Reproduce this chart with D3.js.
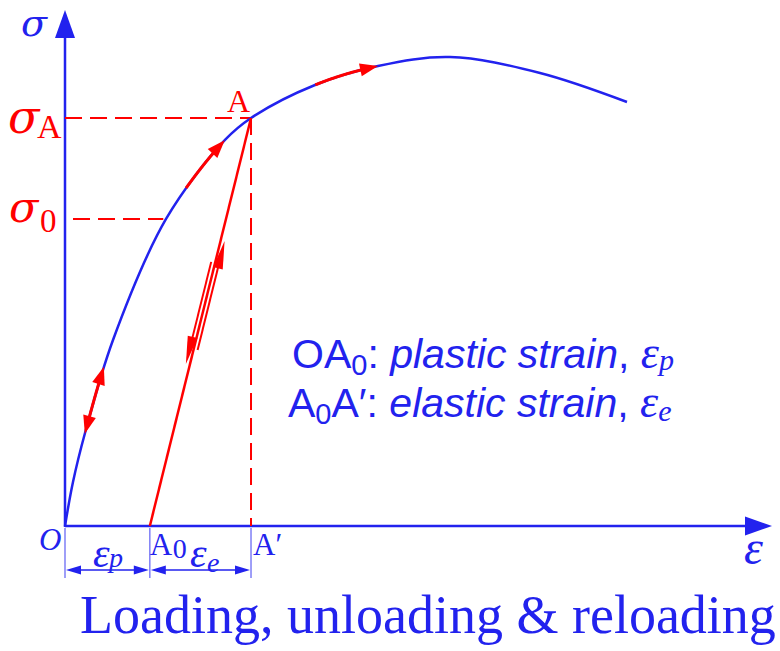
<!DOCTYPE html>
<html>
<head>
<meta charset="utf-8">
<script src="https://cdn.jsdelivr.net/npm/d3@7"></script>
<title>Loading, unloading & reloading</title>
<style>
  body { margin: 0; background: #fff; }
  .serif { font-family: "Liberation Serif", "Times New Roman", serif; }
  .greek { font-family: "DejaVu Serif", serif; }
  .sans { font-family: "Liberation Sans", Arial, sans-serif; }
</style>
</head>
<body>
<svg id="chart" width="780" height="651"></svg>
<script>
// loading curve (strain, stress), arbitrary units 0..100
var curveStrain = [0, 1.13, 2.83, 6.79, 14.29, 22.63, 26.31, 35.36, 44.27, 54.46, 67.19, 79.49];
var curveStress = [0, 8.53, 18.02, 36.05, 59.5, 74.81, 79.07, 85.47, 89.15, 90.89, 87.79, 82.17];

var pointA = [26.31, 79.07];  // A
var strainA0 = 12.0;          // A0, residual strain after unloading
var sigma0 = 59.5;            // initial yield
var strainSigma0 = 13.9;

// red stretches on the curve (strain from -> to) and where the arrowheads go
var redFrom = [2.8, 17.1, 35.4];
var redTo = [5.5, 22.6, 44.3];
var redArrowStart = [true, false, false];
var redArrowEnd = [true, true, true];

// unloading / reloading arrows beside A0-A (stress from -> to, side)
var pathFrom = [51.0, 34.3];
var pathTo = [31.2, 55.4];
var pathSide = [-4, 4];

var blue = "#2222ee", red = "#ff0000";

var svg = d3.select("#chart");
var x = d3.scaleLinear().domain([0, 100]).range([65, 772]);
var y = d3.scaleLinear().domain([0, 100]).range([526, 10]);

function arrowHead(g, tip, ang, len, half, color) {
  var c = Math.cos(ang), s = Math.sin(ang);
  var bx = tip[0] - len * c, by = tip[1] - len * s;
  var pts = [tip, [bx - half * s, by + half * c], [bx + half * s, by - half * c]];
  g.append("polygon").attr("points", pts.map(function(p) { return p.join(","); }).join(" "))
    .attr("fill", color);
}

// axes
svg.append("line").attr("x1", x(0)).attr("y1", y(0) + 1).attr("x2", x(0)).attr("y2", y(100) + 27)
  .attr("stroke", blue).attr("stroke-width", 2.5);
arrowHead(svg, [x(0), y(100)], -Math.PI / 2, 28, 10, blue);
svg.append("line").attr("x1", x(0)).attr("y1", y(0)).attr("x2", x(100) - 26).attr("y2", y(0))
  .attr("stroke", blue).attr("stroke-width", 2.5);
arrowHead(svg, [x(100), y(0)], 0, 27, 9.5, blue);

// dashed guides
var dash = "17,8";
svg.append("line").attr("x1", x(0)).attr("y1", y(pointA[1])).attr("x2", x(pointA[0])).attr("y2", y(pointA[1]))
  .attr("stroke", red).attr("stroke-width", 2).attr("stroke-dasharray", dash);
svg.append("line").attr("x1", x(pointA[0])).attr("y1", y(pointA[1])).attr("x2", x(pointA[0])).attr("y2", y(0))
  .attr("stroke", red).attr("stroke-width", 2).attr("stroke-dasharray", dash);
svg.append("line").attr("x1", x(0) + 8).attr("y1", y(sigma0)).attr("x2", x(strainSigma0)).attr("y2", y(sigma0))
  .attr("stroke", red).attr("stroke-width", 2).attr("stroke-dasharray", dash);

// loading curve
var curveData = curveStrain.map(function(d, i) { return [d, curveStress[i]]; });
var line = d3.line().x(function(d) { return x(d[0]); }).y(function(d) { return y(d[1]); })
  .curve(d3.curveCatmullRom.alpha(0.5));
var curve = svg.append("path").datum(curveData).attr("d", line)
  .attr("fill", "none").attr("stroke", blue).attr("stroke-width", 2.5);

// red pieces following the curve
var node = curve.node(), total = node.getTotalLength();
var samples = d3.range(0, total, 0.5).map(function(l) { var p = node.getPointAtLength(l); return [p.x, p.y]; });
redFrom.forEach(function(f, i) {
  var x0 = x(f), x1 = x(redTo[i]);
  var pts = samples.filter(function(p) { return p[0] >= x0 && p[0] <= x1; });
  var a = pts[0], b = pts[pts.length - 1];
  var g = svg.append("g");
  var s0 = redArrowStart[i] ? 14 : 0, s1 = redArrowEnd[i] ? 14 : 0;
  var inner = pts.filter(function(p) {
    var d0 = Math.hypot(p[0] - a[0], p[1] - a[1]), d1 = Math.hypot(p[0] - b[0], p[1] - b[1]);
    return d0 >= s0 && d1 >= s1;
  });
  g.append("path").attr("d", d3.line()(inner)).attr("fill", "none").attr("stroke", red).attr("stroke-width", 3);
  if (redArrowEnd[i]) {
    var q = pts[Math.max(0, pts.length - 12)];
    arrowHead(g, b, Math.atan2(b[1] - q[1], b[0] - q[0]), 18, 6.5, red);
  }
  if (redArrowStart[i]) {
    var r = pts[Math.min(pts.length - 1, 11)];
    arrowHead(g, a, Math.atan2(a[1] - r[1], a[0] - r[0]), 18, 6.5, red);
  }
});

// unloading line A -> A0
svg.append("line").attr("x1", x(strainA0)).attr("y1", y(0)).attr("x2", x(pointA[0])).attr("y2", y(pointA[1]))
  .attr("stroke", red).attr("stroke-width", 2.5);

var ux = x(pointA[0]) - x(strainA0), uy = y(pointA[1]) - y(0), ul = Math.hypot(ux, uy);
var nx = -uy / ul, ny = ux / ul; // perpendicular, pointing right
if (nx < 0) { nx = -nx; ny = -ny; }
function onUnload(stress, side) {
  var t = stress / pointA[1];
  return [x(strainA0) + t * ux + side * nx, y(0) + t * uy + side * ny];
}
pathFrom.forEach(function(f, i) {
  var p0 = onUnload(f, pathSide[i]), p1 = onUnload(pathTo[i], pathSide[i]);
  var ang = Math.atan2(p1[1] - p0[1], p1[0] - p0[0]);
  var base = [p1[0] - 20 * Math.cos(ang), p1[1] - 20 * Math.sin(ang)];
  svg.append("line").attr("x1", p0[0]).attr("y1", p0[1]).attr("x2", base[0]).attr("y2", base[1])
    .attr("stroke", red).attr("stroke-width", 2);
  arrowHead(svg, p1, ang, 28, 5, red);
});

// dimension lines under the axis
var dimY = y(0) + 44;
[0, strainA0, pointA[0]].forEach(function(v) {
  svg.append("line").attr("x1", x(v)).attr("y1", y(0) + 2).attr("x2", x(v)).attr("y2", y(0) + 52)
    .attr("stroke", "#6b6bf5").attr("stroke-width", 1.3);
});
[[0, strainA0], [strainA0, pointA[0]]].forEach(function(s) {
  var a = x(s[0]) + 1, b = x(s[1]) - 1;
  svg.append("line").attr("x1", a + 12).attr("y1", dimY).attr("x2", b - 12).attr("y2", dimY)
    .attr("stroke", blue).attr("stroke-width", 1.5);
  arrowHead(svg, [a, dimY], Math.PI, 15, 4.5, blue);
  arrowHead(svg, [b, dimY], 0, 15, 4.5, blue);
});

// labels
function txt(cls, xx, yy, size, color, italic) {
  return svg.append("text").attr("class", cls).attr("x", xx).attr("y", yy)
    .attr("font-size", size).attr("fill", color).attr("font-style", italic ? "italic" : "normal");
}
txt("greek", 21, 36, 38, blue, true).text("σ");
txt("greek", 8, 133, 46, red, true).text("σ");
txt("serif", 37, 138, 34, red, false).text("A");
txt("greek", 9, 222, 43, red, true).text("σ");
txt("serif", 40, 232, 33, red, false).text("0");
txt("serif", 227, 112, 32, red, false).text("A");

txt("serif", 39, 550, 31, blue, true).text("O");
txt("serif", x(strainA0), 555, 31, blue, false).text("A");
txt("serif", x(strainA0) + 23, 558, 28, blue, false).text("0");
txt("serif", x(pointA[0]) + 2, 555, 31, blue, false).text("A′");
txt("serif", 93, 567, 42, blue, true).text("ε");
txt("serif", 109, 567, 28, blue, true).text("p");
txt("serif", 190, 567, 42, blue, true).text("ε");
txt("serif", 207, 572, 28, blue, true).text("e");
txt("serif", 744, 564, 48, blue, true).text("ε");

var t1 = txt("sans", 292, 368, 41, blue, false);
t1.append("tspan").text("OA");
t1.append("tspan").attr("font-size", 29).attr("dy", 7).text("0");
t1.append("tspan").attr("dy", -7).text(": ");
t1.append("tspan").attr("font-style", "italic").text("plastic strain");
t1.append("tspan").text(", ");
t1.append("tspan").attr("class", "serif").attr("font-style", "italic").attr("font-size", 46).text("ε");
t1.append("tspan").attr("class", "serif").attr("font-style", "italic").attr("font-size", 30).attr("dy", 2).text("p");

var t2 = txt("sans", 288, 417, 41, blue, false);
t2.append("tspan").text("A");
t2.append("tspan").attr("font-size", 29).attr("dy", 7).text("0");
t2.append("tspan").attr("dy", -7).text("A′: ");
t2.append("tspan").attr("font-style", "italic").text("elastic strain");
t2.append("tspan").text(", ");
t2.append("tspan").attr("class", "serif").attr("font-style", "italic").attr("font-size", 46).text("ε");
t2.append("tspan").attr("class", "serif").attr("font-style", "italic").attr("font-size", 30).attr("dy", 4).text("e");

txt("serif", 80, 633, 54, blue, false).text("Loading, unloading & reloading");
</script>
</body>
</html>
